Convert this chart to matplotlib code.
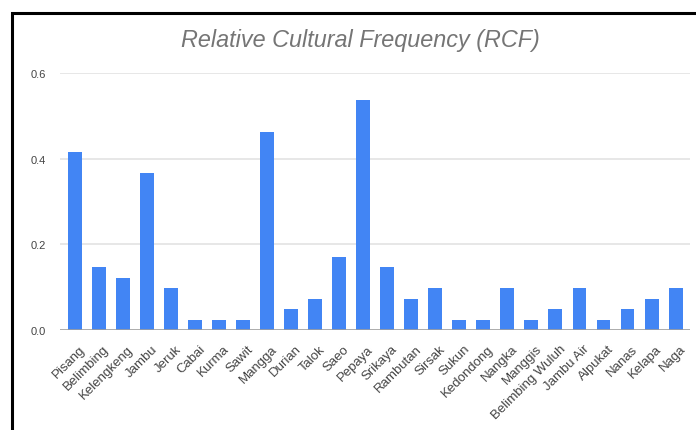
import matplotlib.pyplot as plt
import matplotlib.transforms as mtransforms
from matplotlib.patches import Rectangle

plants = ["Pisang", "Belimbing", "Kelengkeng", "Jambu", "Jeruk", "Cabai", "Kurma",
          "Sawit", "Mangga", "Durian", "Talok", "Saeo", "Pepaya", "Srikaya",
          "Rambutan", "Sirsak", "Sukun", "Kedondong", "Nangka", "Manggis",
          "Belimbing Wuluh", "Jambu Air", "Alpukat", "Nanas", "Kelapa", "Naga"]
rcf = [0.415, 0.146, 0.122, 0.366, 0.098, 0.024, 0.024,
       0.024, 0.463, 0.049, 0.073, 0.171, 0.537, 0.146,
       0.073, 0.098, 0.024, 0.024, 0.098, 0.024,
       0.049, 0.098, 0.024, 0.049, 0.073, 0.098]
y_ticks = [0.0, 0.2, 0.4, 0.6]
y_tick_labels = ["0.0", "0.2", "0.4", "0.6"]
title = "Relative Cultural Frequency (RCF)"

plt.rcParams['font.family'] = ['Liberation Sans', 'DejaVu Sans']

fig = plt.figure(figsize=(6.96, 4.31), dpi=100)
fig.patch.set_facecolor("white")

# frame around the chart (left and top edges visible)
fig.patches.append(Rectangle((12 / 696, -0.1), 1.2, 1.1 - 14 / 431,
                             transform=fig.transFigure, fill=False,
                             edgecolor="black", linewidth=2.2, zorder=0))

ax = fig.add_axes([60 / 696, 100 / 431, 630 / 696, 257 / 431])
x = range(len(plants))
ax.bar(x, rcf, width=0.58, color="#4285F4", zorder=3)

ax.set_xlim(-0.62, len(plants) - 0.4)
ax.set_ylim(0, 0.6)
ax.set_yticks(y_ticks)
ax.set_yticklabels(y_tick_labels, fontsize=8, color="#444444")
ax.set_xticks(list(x))
ax.set_xticklabels(plants, rotation=45, ha="right", va="top",
                   rotation_mode="anchor", fontsize=9.5, color="#444444")
ax.tick_params(axis="both", length=0)
ax.tick_params(axis="y", pad=10)
ax.tick_params(axis="x", pad=9)

# nudge the slanted category names a little to the right
shift = mtransforms.ScaledTranslation(4 / 100, 0, fig.dpi_scale_trans)
for lbl in ax.get_xticklabels():
    lbl.set_transform(lbl.get_transform() + shift)

for v in y_ticks[1:]:
    ax.axhline(v, color="#e3e3e3", linewidth=1.2, zorder=1)
ax.axhline(0, color="#9e9e9e", linewidth=1.2, zorder=4)

for s in ax.spines.values():
    s.set_visible(False)

fig.text(360 / 696, 1 - 41 / 431, title, ha="center", va="center",
         fontsize=16.8, style="italic", color="#757575")

fig.savefig("out.png", dpi=100, facecolor="white")
